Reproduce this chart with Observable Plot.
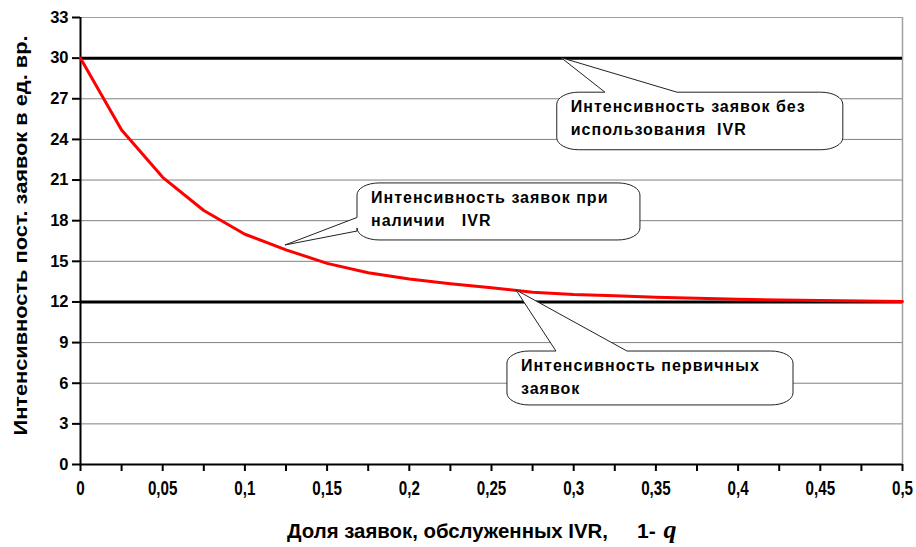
<!DOCTYPE html>
<html>
<head>
<meta charset="utf-8">
<script src="https://cdn.jsdelivr.net/npm/d3@7"></script>
<script src="https://cdn.jsdelivr.net/npm/@observablehq/plot@0.6"></script>
<style>
  html, body { margin: 0; padding: 0; background: #fff; }
</style>
</head>
<body>
<div id="chart"></div>
<script>
// ---- data ----
const xs = [0, 0.025, 0.05, 0.075, 0.1, 0.125, 0.15, 0.175, 0.2, 0.225, 0.25,
            0.275, 0.3, 0.325, 0.35, 0.375, 0.4, 0.425, 0.45, 0.475, 0.5];
const withIVR = [30, 24.7, 21.2, 18.75, 17.0, 15.85, 14.85, 14.15, 13.7, 13.35, 13.05,
                 12.72, 12.55, 12.45, 12.35, 12.28, 12.2, 12.15, 12.1, 12.07, 12.04];
const withoutIVR = 30;
const primary = 12;
const yTicks = [0, 3, 6, 9, 12, 15, 18, 21, 24, 27, 30, 33];
const xTicks = xs;
const xLabels = ["0", "0,05", "0,1", "0,15", "0,2", "0,25", "0,3", "0,35", "0,4", "0,45", "0,5"];
const yTitle = "Интенсивность пост. заявок в ед. вр.";
const xTitle = "Доля заявок, обслуженных IVR,";
const xTitleVar = ["1- ", "q"];
const calloutText = [
  ["Интенсивность заявок без", "использования  IVR"],
  ["Интенсивность заявок при", "наличии   IVR"],
  ["Интенсивность первичных", "заявок"]
];
const calloutTip = [[0.2926, 30], [0.1247, 16.17], [0.2652, 12.85]];

// annotation layout (data units)
const calloutLayout = [
  {box: [0.290, 0.464, 27.45, 23.2], side: "top", base: [0.3193, 0.3631]},
  {box: [0.1685, 0.3406, 20.75, 16.54], side: "left", base: [18.2, 17.2]},
  {box: [0.2597, 0.4337, 8.34, 4.36], side: "top", base: [0.2895, 0.3327]}
];

const data = xs.map((x, i) => ({x, y: withIVR[i]}));
const FONT = '"Liberation Sans", Arial, sans-serif';
const NARROW_SCALE = 0.76;

function calloutPath(x0, y0, x1, y1, side, b1, b2, tx, ty) {
  const rx = 22, ry = 12, k = 0.45;
  let p = `M${x0},${y0 + ry}`;
  p += `C${x0},${y0 + ry * k} ${x0 + rx * k},${y0} ${x0 + rx},${y0}`;
  if (side === "top") p += `L${b1},${y0}L${tx},${ty}L${b2},${y0}`;
  p += `L${x1 - rx},${y0}`;
  p += `C${x1 - rx * k},${y0} ${x1},${y0 + ry * k} ${x1},${y0 + ry}`;
  p += `L${x1},${y1 - ry}`;
  p += `C${x1},${y1 - ry * k} ${x1 - rx * k},${y1} ${x1 - rx},${y1}`;
  p += `L${x0 + rx},${y1}`;
  p += `C${x0 + rx * k},${y1} ${x0},${y1 - ry * k} ${x0},${y1 - ry}`;
  if (side === "left") p += `L${x0},${b1}L${tx},${ty}L${x0},${b2}`;
  p += "Z";
  return p;
}

function callouts(index, scales) {
  const {x, y} = scales;
  const g = d3.create("svg:g").attr("class", "custom");
  calloutLayout.forEach((c, i) => {
    const x0 = x(c.box[0]), x1 = x(c.box[1]), y0 = y(c.box[2]), y1 = y(c.box[3]);
    const tx = x(calloutTip[i][0]), ty = y(calloutTip[i][1]);
    let b1, b2;
    if (c.side === "top") { b1 = x(c.base[0]); b2 = x(c.base[1]); }
    else { b1 = y(c.base[1]); b2 = y(c.base[0]); }
    g.append("path")
      .attr("d", calloutPath(x0, y0, x1, y1, c.side, b1, b2, tx, ty))
      .attr("fill", "#fff").attr("stroke", "#222").attr("stroke-width", 1);
    calloutText[i].forEach((line, j) => {
      g.append("text").attr("class", "custom")
        .attr("x", x0 + 14).attr("y", y0 + 14 + j * 23).attr("dy", "0.35em")
        .attr("text-anchor", "start")
        .attr("font-family", FONT).attr("font-size", 16).attr("font-weight", "bold")
        .attr("letter-spacing", 1)
        .attr("fill", "#000").style("white-space", "pre")
        .text(line);
    });
  });
  return g.node();
}

function titles(index, scales, values, dimensions) {
  const {x, y} = scales;
  const g = d3.create("svg:g").attr("class", "custom");
  const cy = (y(0) + y(33)) / 2 - 5;
  g.append("text").attr("class", "custom")
    .attr("transform", `translate(27,${cy}) rotate(-90)`)
    .attr("text-anchor", "middle")
    .attr("font-family", FONT).attr("font-size", 18).attr("font-weight", "bold")
    .attr("textLength", 400).attr("lengthAdjust", "spacingAndGlyphs")
    .text(yTitle);
  const cx = x(0.25);
  const by = dimensions.height - 9;
  g.append("text").attr("class", "custom")
    .attr("x", cx - 204).attr("y", by)
    .attr("text-anchor", "start")
    .attr("font-family", FONT).attr("font-size", 21).attr("font-weight", "bold")
    .attr("textLength", 321).attr("lengthAdjust", "spacingAndGlyphs")
    .text(xTitle);
  const t = g.append("text").attr("class", "custom")
    .attr("x", cx + 146).attr("y", by)
    .attr("text-anchor", "start").style("white-space", "pre");
  t.append("tspan").attr("font-family", FONT).attr("font-size", 21).attr("font-weight", "bold")
    .text(xTitleVar[0]);
  t.append("tspan").attr("dx", 2).attr("font-family", '"Liberation Serif", "Times New Roman", serif')
    .attr("font-size", 26).attr("font-style", "italic").text(xTitleVar[1]);
  return g.node();
}

const chart = Plot.plot({
  width: 916,
  height: 547,
  marginLeft: 80,
  marginRight: 14,
  marginTop: 17,
  marginBottom: 83,
  style: {fontFamily: FONT, fontSize: "16px", fontWeight: "bold", background: "#fff", color: "#000"},
  x: {
    domain: [0, 0.5],
    ticks: xTicks,
    tickSize: 7,
    tickPadding: 9,
    tickFormat: d => {
      const i = Math.round(d * 20);
      return Math.abs(d * 20 - i) < 1e-6 ? xLabels[i] : "";
    },
    label: null
  },
  y: {
    domain: [0, 33],
    ticks: yTicks,
    tickSize: 8,
    tickPadding: 4,
    tickFormat: d => String(d),
    label: null
  },
  marks: [
    Plot.ruleY(yTicks.filter(d => d > 0), {stroke: "#808080", strokeWidth: 1}),
    Plot.ruleY([33], {stroke: "#a0a0a0", strokeWidth: 1}),
    Plot.ruleX([0.5], {y1: 0, y2: 33, stroke: "#a0a0a0", strokeWidth: 1.5}),
    Plot.ruleY([withoutIVR], {stroke: "#000", strokeWidth: 3}),
    Plot.ruleY([primary], {stroke: "#000", strokeWidth: 3}),
    Plot.ruleX([0], {y1: 0, y2: 33, stroke: "#000", strokeWidth: 2}),
    Plot.ruleY([0], {stroke: "#000", strokeWidth: 2}),
    Plot.line(data, {x: "x", y: "y", stroke: "#ff0000", strokeWidth: 3}),
    callouts,
    titles
  ]
});

// style the library's axis tick labels and ticks
chart.querySelectorAll("text").forEach(t => {
  if (t.closest(".custom")) return;
  const anchorEl = t.closest("[text-anchor]");
  const anchor = anchorEl ? anchorEl.getAttribute("text-anchor") : "middle";
  t.style.fontFamily = FONT;
  t.style.fontWeight = "bold";
  if (anchor === "end") {
    t.style.fontSize = "16.5px";
  } else {
    t.style.fontSize = "20px";
    const x0 = +(t.getAttribute("x") || 0);
    const prev = t.getAttribute("transform") || "";
    t.setAttribute("transform",
      `${prev} translate(${x0},0) scale(${NARROW_SCALE},1) translate(${-x0},0)`.trim());
  }
});
chart.querySelectorAll("line, path").forEach(el => {
  if (el.closest(".custom")) return;
  const g = el.closest("g");
  if (!g) return;
  const lab = (g.getAttribute("aria-label") || "") + " " +
    ((g.parentNode && g.parentNode.getAttribute && g.parentNode.getAttribute("aria-label")) || "");
  if (/axis/.test(lab)) { el.style.strokeWidth = "2px"; el.style.stroke = "#000"; }
});

document.getElementById("chart").appendChild(chart);
</script>
</body>
</html>
